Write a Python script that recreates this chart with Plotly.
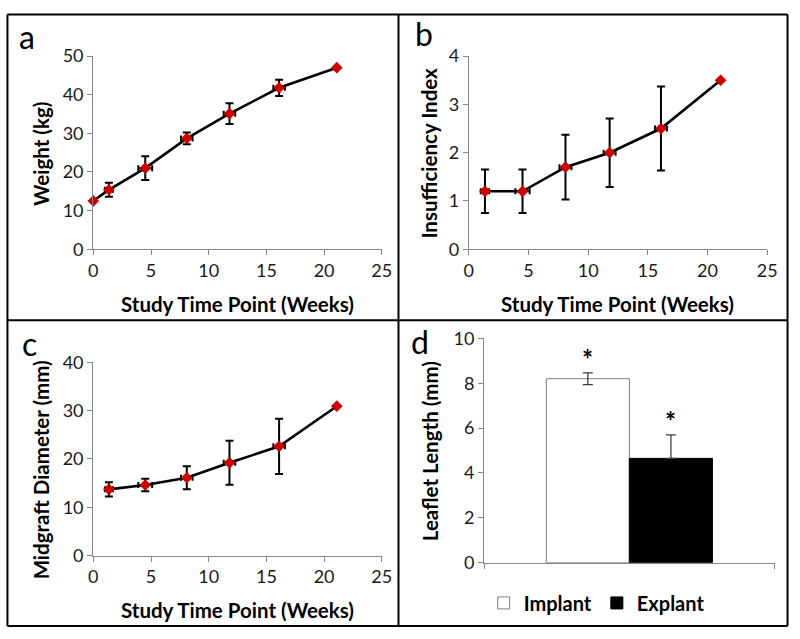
import plotly.graph_objects as go

# ---------------- data ----------------
weeks_a = [0, 1.35, 4.5, 8.1, 11.8, 16.1, 21.1]
weeks_a_err = [0, 0.35, 0.6, 0.5, 0.5, 0.5, 0]
weight = [12.5, 15.4, 21.0, 28.7, 35.1, 41.8, 47.0]
weight_err = [0, 1.8, 3.1, 1.5, 2.7, 2.1, 0]

weeks_b = [1.35, 4.5, 8.1, 11.8, 16.1, 21.1]
weeks_b_err = [0.35, 0.6, 0.5, 0.5, 0.5, 0]
insuff = [1.2, 1.2, 1.7, 2.0, 2.5, 3.5]
insuff_err = [0.45, 0.45, 0.67, 0.71, 0.87, 0]

midgraft = [13.7, 14.6, 16.1, 19.2, 22.6, 30.9]
midgraft_err = [1.45, 1.3, 2.4, 4.55, 5.7, 0]

leaflet_groups = ["Implant", "Explant"]
leaflet = [8.2, 4.65]
leaflet_err_plus = [0.26, 1.05]
leaflet_err_minus = [0.26, 0]

panel_letters = ["a", "b", "c", "d"]
xtitle = "Study Time Point (Weeks)"
ytitles = ["Weight (kg)", "Insufficiency Index", "Midgraft Diameter (mm)", "Leaflet Length (mm)"]

# ---------------- styling ----------------
W, H = 800, 639
FONT = "Lato"
RED = "#CC0000"
AXIS_GRAY = "#878787"

def px(x):
    return x / W

def py(y):
    return 1 - y / H

fig = go.Figure()

def line_trace(x, xerr, y, yerr, xa, ya):
    return go.Scatter(
        x=x, y=y, xaxis=xa, yaxis=ya, mode="lines+markers",
        line=dict(color="black", width=2.6),
        marker=dict(symbol="diamond", size=9, color=RED),
        error_y=dict(type="data", array=yerr, visible=True, color="black", thickness=2, width=4),
        error_x=dict(type="data", array=xerr, visible=True, color="black", thickness=2, width=3),
        showlegend=False, cliponaxis=False,
    )

fig.add_trace(line_trace(weeks_a, weeks_a_err, weight, weight_err, "x", "y"))
fig.add_trace(line_trace(weeks_b, weeks_b_err, insuff, insuff_err, "x2", "y2"))
fig.add_trace(line_trace(weeks_b, weeks_b_err, midgraft, midgraft_err, "x3", "y3"))

bar_fill = ["white", "black"]
bar_line = ["#7f7f7f", "black"]
err_col = ["#404040", "#404040"]
for i, g in enumerate(leaflet_groups):
    fig.add_trace(go.Bar(
        x=["Leaflet"], y=[leaflet[i]], name=g, xaxis="x4", yaxis="y4",
        marker=dict(color=bar_fill[i], line=dict(color=bar_line[i], width=1)),
        error_y=dict(type="data", symmetric=False, array=[leaflet_err_plus[i]],
                     arrayminus=[leaflet_err_minus[i]], color=err_col[i], thickness=1.3, width=5),
    ))

tickfont = dict(family=FONT, size=18, color="#1a1a1a")
common_axis = dict(showline=True, linecolor=AXIS_GRAY, linewidth=1.3, ticks="outside",
                   ticklen=5, tickcolor=AXIS_GRAY, tickwidth=1.3, showgrid=False,
                   zeroline=False, tickfont=tickfont, fixedrange=True)

dom_ax = [px(90), px(384)]
dom_bx = [px(472.7), px(776.7)]
dom_top = [py(245.7), py(45.7)]
dom_cy = [py(563), py(362.7)]
dom_dx = [px(488.3), px(784.3)]
dom_dy = [py(570.3), py(338)]

bargap = 0.428
fig.update_layout(
    width=W, height=H, margin=dict(l=0, r=0, t=0, b=0),
    paper_bgcolor="white", plot_bgcolor="white",
    barmode="group", bargap=bargap, bargroupgap=0,
    xaxis=dict(domain=dom_ax, range=[0, 25], dtick=5, anchor="y", **common_axis),
    yaxis=dict(domain=dom_top, range=[0, 50], dtick=10, anchor="x", **common_axis),
    xaxis2=dict(domain=dom_bx, range=[0, 25], dtick=5, anchor="y2", **common_axis),
    yaxis2=dict(domain=dom_top, range=[0, 4], dtick=1, anchor="x2", **common_axis),
    xaxis3=dict(domain=dom_ax, range=[0, 25], dtick=5, anchor="y3", **common_axis),
    yaxis3=dict(domain=dom_cy, range=[0, 40], dtick=10, anchor="x3", **common_axis),
    xaxis4=dict(domain=dom_dx, anchor="y4", type="category", tickson="boundaries",
                showticklabels=False, **{k: v for k, v in common_axis.items() if k != "tickfont"}),
    yaxis4=dict(domain=dom_dy, range=[0, 10], dtick=2, anchor="x4", **common_axis),
    legend=dict(orientation="h", x=px(603), y=py(612), xanchor="center", yanchor="middle",
                font=dict(family=FONT, size=20, color="black", weight="bold"),
                itemwidth=30, tracegroupgap=0, bgcolor="rgba(0,0,0,0)"),
    showlegend=True,
)

annotations = []
# panel letters
letter_pos = [(22, 25), (427, 22), (25, 343), (423, 341)]
for t, (x, y) in zip(panel_letters, letter_pos):
    annotations.append(dict(text=t, x=px(x), y=py(y), xref="paper", yref="paper",
                            showarrow=False, xanchor="center", yanchor="middle",
                            font=dict(family=FONT, size=32, color="black")))
# x titles
for x, y in [(237, 302.5), (624.7, 302.5), (237, 619.5)]:
    annotations.append(dict(text=xtitle, x=px(x), y=py(y), xref="paper", yref="paper",
                            showarrow=False, xanchor="center", yanchor="middle",
                            font=dict(family=FONT, size=20.5, color="black", weight="bold")))
# y titles
for t, (x, y) in zip(ytitles, [(36.7, 147), (431.7, 146), (36.7, 474.7), (433.3, 454.7)]):
    annotations.append(dict(text=t, x=px(x), y=py(y), xref="paper", yref="paper",
                            showarrow=False, xanchor="center", yanchor="middle", textangle=-90,
                            font=dict(family=FONT, size=20.5, color="black", weight="bold")))
# asterisks over the bars
off = (1 - bargap) / 4
for i in range(len(leaflet)):
    annotations.append(dict(text="*", x=(-off if i == 0 else off), y=leaflet[i] + leaflet_err_plus[i],
                            xref="x4", yref="y4", showarrow=False, xanchor="center",
                            yanchor="bottom", yshift=-4,
                            font=dict(family=FONT, size=26, color="black", weight="bold")))
fig.update_layout(annotations=annotations)

# panel borders
shapes = []
lw = 2
for x0, y0, x1, y1 in [(2.5, 2.5, 797.5, 2.5), (2.5, 636, 797.5, 636), (2.5, 2.5, 2.5, 636),
                       (797.5, 2.5, 797.5, 636), (401, 2.5, 401, 636), (2.5, 319.3, 797.5, 319.3)]:
    shapes.append(dict(type="line", xref="paper", yref="paper", x0=px(x0), y0=py(y0),
                       x1=px(x1), y1=py(y1), line=dict(color="black", width=lw)))
fig.update_layout(shapes=shapes)

post = ("document.body.style.margin='0px';document.body.style.padding='0px';"
        "document.body.style.overflow='hidden';"
        "var d=document.getElementById('{plot_id}');"
        "d.style.position='fixed';d.style.top='0px';d.style.left='0px';")
fig.write_html("out.html", post_script=post,
               config={"displayModeBar": False, "staticPlot": False})
